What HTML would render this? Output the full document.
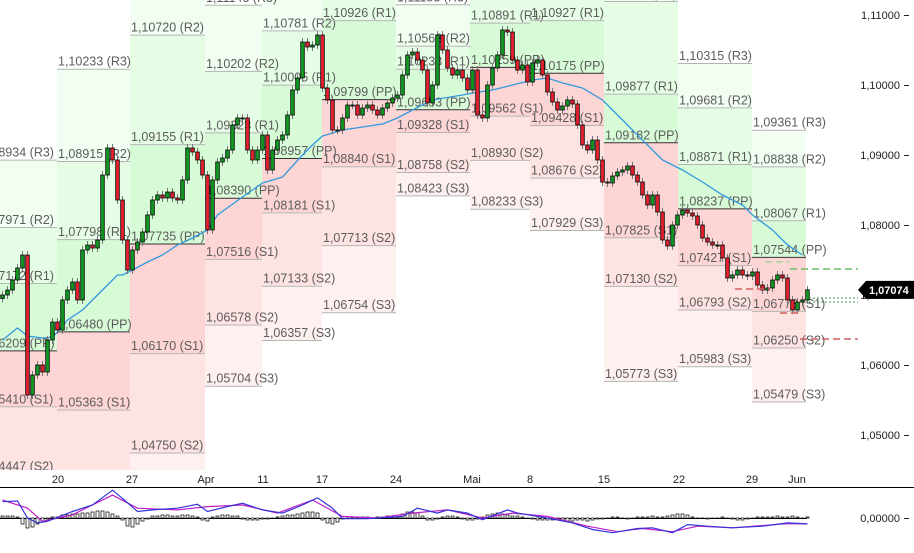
<!DOCTYPE html>
<html><head><meta charset="utf-8">
<style>
html,body{margin:0;padding:0;background:#fff;}
svg{display:block;font-family:"Liberation Sans",Arial,sans-serif;}
</style></head>
<body>
<svg id="chart" width="914" height="553" viewBox="0 0 914 553" xmlns="http://www.w3.org/2000/svg">
<defs><clipPath id="mainClip"><rect x="0" y="0" width="858" height="470"/></clipPath></defs>
<g id="zones" clip-path="url(#mainClip)"></g>
<g id="levels" clip-path="url(#mainClip)"></g>
<g id="ma" clip-path="url(#mainClip)"></g>
<g id="candles" clip-path="url(#mainClip)"></g>
<g id="dashes"></g>
<g id="yaxis"></g>
<g id="xaxis"></g>
<g id="macd"></g>
</svg>
<script>
const closes=[1.0700,1.07071,1.07214,1.07386,1.07571,1.05571,1.05857,1.0600,1.0590,1.06357,1.06614,1.0650,1.06929,1.07071,1.07186,1.06929,1.07643,1.07714,1.07671,1.07786,1.08714,1.0910,1.08929,1.08357,1.07786,1.07357,1.07643,1.07757,1.0790,1.08143,1.08357,1.08429,1.08386,1.08471,1.08386,1.08357,1.08643,1.0910,1.09043,1.08929,1.08714,1.07929,1.08643,1.0890,1.08957,1.09071,1.09429,1.09529,1.09529,1.09071,1.08929,1.09071,1.09286,1.08786,1.09071,1.09214,1.09286,1.09571,1.09929,1.1010,1.10614,1.10543,1.10571,1.10714,1.09957,1.09786,1.09357,1.09357,1.09529,1.09714,1.09714,1.09571,1.09671,1.09714,1.09643,1.09571,1.09671,1.09743,1.09814,1.09857,1.10143,1.10429,1.10471,1.10357,1.10214,1.09743,1.1000,1.10714,1.1050,1.10243,1.10143,1.10214,1.1010,1.09929,1.10214,1.09571,1.09529,1.1000,1.10243,1.10429,1.10786,1.10757,1.10357,1.10214,1.10286,1.10043,1.10314,1.10357,1.10143,1.0990,1.09757,1.09643,1.0970,1.09786,1.09729,1.09429,1.09143,1.09071,1.09214,1.08929,1.08614,1.0860,1.0870,1.08757,1.08786,1.08843,1.08714,1.08614,1.08429,1.08286,1.08429,1.08186,1.07786,1.0770,1.0800,1.08143,1.08214,1.08171,1.08129,1.0800,1.07814,1.07757,1.07714,1.07714,1.07529,1.07243,1.07286,1.07357,1.07286,1.07271,1.07329,1.07143,1.07071,1.0710,1.07214,1.07286,1.07243,1.06929,1.06786,1.0690,1.06929,1.07074];
const firstOpen=1.0695;
const maIdx=[0,3,5,8,10,11,13,16,20,23,24,26,29,32,35,38,41,43,48,52,56,60,62,64,68,72,76,79,82,86,92,94,98,102,106,109,112,116,120,124,128,132,136,140,144,148,150,154,157,160];
const maVal=[1.06357,1.06529,1.06414,1.06386,1.0640,1.06471,1.06643,1.06786,1.07071,1.07286,1.07286,1.07357,1.07471,1.07571,1.07714,1.07814,1.07929,1.08143,1.0840,1.0860,1.08686,1.0900,1.09143,1.09271,1.09357,1.0940,1.09443,1.09529,1.09643,1.09786,1.09857,1.09886,1.09929,1.1000,1.10071,1.1010,1.10029,1.09957,1.09786,1.0950,1.09214,1.08929,1.08786,1.08614,1.08429,1.08286,1.08143,1.07929,1.07714,1.07571];
const weekEdges=[-4,11.4,26,41,52.4,64.4,79.2,94,106,120.8,135.6,150.4,161.2];
const PP=[1.06209,1.06480,1.07735,1.08390,1.08957,1.09799,1.09653,1.10259,1.10175,1.09182,1.08237,1.07544];
const R1=[1.07172,1.07798,1.09155,1.09323,1.10005,1.10926,1.10233,1.10891,1.10927,1.09877,1.08871,1.08067];
const R2=[1.07971,1.08915,1.10720,1.10202,1.10781,1.12000,1.10563,1.11600,1.11700,1.11200,1.09681,1.08838];
const R3=[1.08934,1.10233,1.12300,1.11146,1.11800,1.13000,1.11153,1.12300,1.12500,1.12600,1.10315,1.09361];
const S1=[1.05410,1.05363,1.06170,1.07516,1.08181,1.08840,1.09328,1.09562,1.09428,1.07825,1.07427,1.06773];
const S2=[1.04447,1.04045,1.04750,1.06578,1.07133,1.07713,1.08758,1.08930,1.08676,1.07130,1.06793,1.06250];
const S3=[1.03500,1.03000,1.03200,1.05704,1.06357,1.06754,1.08423,1.08233,1.07929,1.05773,1.05983,1.05479];
const yTicks=[1.11,1.10,1.09,1.08,1.07,1.06,1.05];
const yTickLabels=["1,11000","1,10000","1,09000","1,08000","1,07000","1,06000","1,05000"];
const dateIdx=[11.6,26.4,41.2,52.6,64.4,79.2,94.4,106,120.8,135.8,150.4,159.4];
const dateLabels=["20","27","Apr","11","17","24","Mai","8","15","22","29","Jun"];
const lastPrice=1.07074;
const lastPriceLabel="1,07074";
const dailyGreen=[1.07371,1.07471];
const dailyGreenDot=[1.06957,1.0690];
const dailyRed=[1.06371,1.07086,1.06743];
const macdIdx=[0,3,5,7,9,14,18,22,24,27,30,35,39,41,45,48,52,56,60,63,66,68,73,80,83,87,89,93,96,101,103,109,114,118,122,127,130,134,137,141,146,152,157,161];
const macdVal=[0.00163,0.0017,0,-0.00049,-0.00033,0.00065,0.0013,0.00278,0.00196,0.00065,0.00081,0.00098,0.00137,0.00065,0.00114,0.00147,0.00081,0.00049,0.0013,0.00202,0.00098,-0.00007,-0.00007,0.00016,0.00098,0.00049,0.00081,0.00049,-0.00017,0.00081,0.00049,0,-0.00049,-0.00115,-0.00147,-0.00105,-0.00098,-0.00147,-0.00066,-0.00082,-0.00098,-0.00082,-0.00049,-0.00059];
const sigIdx=[0,5,8,14,22,27,35,41,48,55,62,68,75,82,89,96,102,109,117,123,128,134,139,146,157,161];
const sigVal=[0.0018,0.00098,-0.00033,0.00032,0.00229,0.00098,0.00081,0.00114,0.0013,0.00049,0.0018,0.00016,0,0.00049,0.00081,0,0.00049,0.00016,-0.00082,-0.00137,-0.00105,-0.00137,-0.00082,-0.00098,-0.00056,-0.00059];
const histVal=[2,2,2,1,-6,-10,-9,-6,-3,-1,1,1,3,3,4,4,5,5,6,7,7,6,4,2,-2,-8,-9,-6,-3,-1,2,2,3,3,2,2,3,3,2,1,-2,-3,1,2,3,3,2,2,-1,-2,-2,-2,-1,-1,0,1,2,3,3,4,5,6,6,5,-2,-5,-6,-4,-1,0,1,1,1,1,0,1,1,2,1,1,4,6,6,5,2,-2,-2,-1,1,2,2,1,-1,-2,-2,-1,1,3,4,5,4,3,2,2,1,0,-1,-2,-2,-2,-2,-1,-2,-3,-3,-2,-2,-3,-2,-1,-1,0,1,1,0,-1,0,1,1,1,2,1,1,2,3,4,4,3,1,0,0,-1,0,0,1,0,-1,-2,-2,-1,0,1,1,1,1,2,1,1,2,1,0,1];

const NS="http://www.w3.org/2000/svg";
const STEP=5;
function xAt(i){return 2.5+i*STEP;}
function xEdge(i){return i*STEP;}
function yAt(p){return 15+(1.11-p)*7000;}
const ZERO_Y=518;
function yMacd(v){return ZERO_Y-v*10000;}
function yHist(v){return ZERO_Y-v;}
function mk(tag,attrs,parent){const e=document.createElementNS(NS,tag);for(const k in attrs)e.setAttribute(k,attrs[k]);parent.appendChild(e);return e;}
function fmt(p){return p.toFixed(5).replace('.',',');}

// zones
const zones=document.getElementById('zones');
const zoneDefs=[[PP,R1,'#d7fbd7','zone-pp-r1'],[R1,R2,'#e5fde5','zone-r1-r2'],[R2,R3,'#f1fef1','zone-r2-r3'],[S1,PP,'#fed5d5','zone-s1-pp'],[S2,S1,'#fee3e3','zone-s2-s1'],[S3,S2,'#fff0f0','zone-s3-s2']];
for(let w=0;w<PP.length;w++){
  const x0=xEdge(weekEdges[w]),x1=xEdge(weekEdges[w+1]);
  zoneDefs.forEach(z=>{
    const lo=z[0][w],hi=z[1][w];
    const r=mk('rect',{x:x0,y:yAt(hi),width:x1-x0,height:yAt(lo)-yAt(hi),fill:z[2]},zones);
    
    
  });
}
// level lines + labels
const levels=document.getElementById('levels');
const levelDefs=[[R3,'R3'],[R2,'R2'],[R1,'R1'],[PP,'PP'],[S1,'S1'],[S2,'S2'],[S3,'S3']];
for(let w=0;w<PP.length;w++){
  const x0=xEdge(weekEdges[w]),x1=xEdge(weekEdges[w+1]);
  levelDefs.forEach(l=>{
    const v=l[0][w],y=yAt(v);
    const ln=mk('line',{x1:x0,x2:x1,y1:y+0.5,y2:y+0.5,stroke:l[1]==='PP'?'#333':'#b4b4b4','stroke-width':1},levels);
    
    
    const t=mk('text',{x:x0+1,y:y-3,'font-size':12.5,fill:'#5c5c5c'},levels);
    t.textContent=fmt(v)+' ('+l[1]+')';
    
    
  });
}
// MA
const maG=document.getElementById('ma');
let d='';maIdx.forEach((i,k)=>{d+=(k?'L':'M')+xAt(i).toFixed(1)+','+yAt(maVal[k]).toFixed(1);});
const maP=mk('path',{d:d,fill:'none',stroke:'#3399dd','stroke-width':1.3},maG);


// candles
const cg=document.getElementById('candles');
closes.forEach((c,i)=>{
  const o=i?closes[i-1]:firstOpen;
  const x=xAt(i);
  const top=yAt(Math.max(o,c)),bot=yAt(Math.min(o,c));
  const wk=mk('line',{x1:x,x2:x,y1:top-4,y2:bot+4,stroke:'#777','stroke-width':1},cg);
  
  
  const b=mk('rect',{x:x-1.8,y:top,width:3.6,height:Math.max(1,bot-top),fill:c>=o?'#119a22':'#e8202e',stroke:'#000','stroke-width':0.8},cg);
  
  
});
// daily dashed levels
const dg=document.getElementById('dashes');
dailyGreen.forEach((v,k)=>{
  const l=mk('line',{x1:k?765:790,x2:k?790:858,y1:yAt(v),y2:yAt(v),stroke:k?'#9fd79f':'#6abf6a','stroke-width':1.5,'stroke-dasharray':'7,4'},dg);
  
  
});
dailyGreenDot.forEach(v=>{
  const l=mk('line',{x1:805,x2:858,y1:yAt(v),y2:yAt(v),stroke:'#4a9a4a','stroke-width':1,'stroke-dasharray':'2,2'},dg);
  
  
});
dailyRed.forEach((v,k)=>{
  const xs=[[800,858],[735,770],[780,800]][k];
  const l=mk('line',{x1:xs[0],x2:xs[1],y1:yAt(v),y2:yAt(v),stroke:'#d06060','stroke-width':1.5,'stroke-dasharray':'7,4'},dg);
  
  
});
// y axis
const ya=document.getElementById('yaxis');
yTicks.forEach((v,k)=>{
  const t=mk('text',{x:900,y:yAt(v)+4,'font-size':11,fill:'#222','text-anchor':'end'},ya);
  t.textContent=yTickLabels[k];
  
  
  const tk=mk('line',{x1:904,x2:909,y1:yAt(v)+0.5,y2:yAt(v)+0.5,stroke:'#222'},ya);
  
  
});
const ly=yAt(lastPrice);
const tag=mk('path',{d:`M858,${ly} L866,${ly-9} L914,${ly-9} L914,${ly+9} L866,${ly+9} Z`,fill:'#000'},ya);


const tt=mk('text',{x:869,y:ly+4,'font-size':11,'font-weight':'bold',fill:'#fff'},ya);
tt.textContent=lastPriceLabel;


// x axis
const xa=document.getElementById('xaxis');
dateIdx.forEach((i,k)=>{
  const t=mk('text',{x:xEdge(i),y:483,'font-size':11,fill:'#222','text-anchor':'middle'},xa);
  t.textContent=dateLabels[k];
  
  
});
const sep=mk('line',{x1:0,x2:914,y1:487.5,y2:487.5,stroke:'#000','stroke-width':1},xa);


// MACD
const mg=document.getElementById('macd');
const zl=mk('line',{x1:0,x2:807,y1:ZERO_Y+0.5,y2:ZERO_Y+0.5,stroke:'#000','stroke-width':1},mg);


histVal.forEach((v,i)=>{
  const y0=yHist(Math.max(v,0)),y1=yHist(Math.min(v,0));
  const r=mk('rect',{x:xAt(i)-1.5,y:y0,width:3,height:Math.max(0.5,y1-y0),fill:'#fff',stroke:'#000','stroke-width':0.7},mg);
  
  
});
function line(idx,val,color,name){
  let p='';idx.forEach((i,k)=>{p+=(k?'L':'M')+xAt(i).toFixed(1)+','+yMacd(val[k]).toFixed(1);});
  const e=mk('path',{d:p,fill:'none',stroke:color,'stroke-width':1.2},mg);
  
  
}
line(sigIdx,sigVal,'#c020c8','macd-signal-line');
line(macdIdx,macdVal,'#3434d8','macd-line');
const zt=mk('text',{x:900,y:ZERO_Y+4,'font-size':11,fill:'#222','text-anchor':'end'},mg);
zt.textContent='0,00000';


const ztk=mk('line',{x1:904,x2:909,y1:ZERO_Y+0.5,y2:ZERO_Y+0.5,stroke:'#222'},mg);


</script>
</body></html>
